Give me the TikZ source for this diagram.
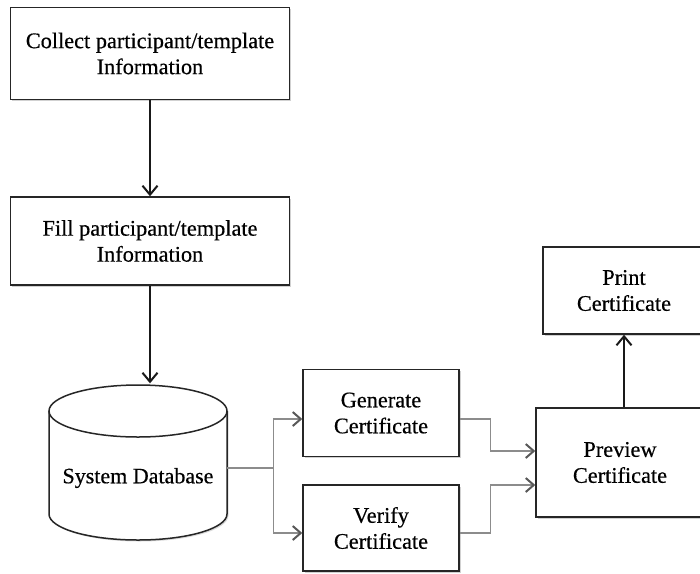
\documentclass[tikz,border=0pt]{standalone}
\usepackage{fontspec}
\setmainfont{Liberation Serif}[FakeBold=0.5]
\usetikzlibrary{arrows.meta,shadows}

\tikzset{
  stepbox/.style={draw=black!85, line width=1.5pt, fill=white, align=center,
    font=\fontsize{22.3}{26}\selectfont, inner sep=0pt,
    drop shadow={shadow xshift=1.5pt, shadow yshift=-1.5pt, fill=black, opacity=0.18}},
  flow/.style={draw=black!90, line width=1.8pt,
    -{Straight Barb[length=9pt,width=15pt,line width=2pt]}},
  feed/.style={draw=black!45, line width=1.2pt,
    -{Straight Barb[length=8pt,width=14pt,line width=2pt,color=black!65]}},
  dbline/.style={draw=black!85, line width=1.5pt}
}

\begin{document}
\begin{tikzpicture}[x=1pt,y=-1pt]
  \useasboundingbox (0,0) rectangle (700,573);
  \clip (0,0) rectangle (700,573);
  \fill[white] (0,0) rectangle (700,573);

  % main input steps
  \node[stepbox, minimum width=279pt, minimum height=92pt] (collect) at (150,53.5)
    {Collect participant/template\\Information};
  \node[stepbox, minimum width=279pt, minimum height=88pt] (fill) at (150,241)
    {Fill participant/template\\Information};

  % database cylinder
  \node[minimum width=178pt, minimum height=155pt, inner sep=0pt] (db) at (138,462.5) {};
  \fill[black, opacity=0.15] (50.5,411) -- (50.5,515.5)
    arc[start angle=180, end angle=360, x radius=89pt, y radius=26pt] -- (228.5,411) -- cycle;
  \fill[white] (49,411) -- (49,514)
    arc[start angle=180, end angle=360, x radius=89pt, y radius=26pt] -- (227,411) -- cycle;
  \draw[dbline] (49,411) -- (49,514)
    arc[start angle=180, end angle=360, x radius=89pt, y radius=26pt] -- (227,411);
  \draw[dbline, fill=white] (138,411) ellipse [x radius=89pt, y radius=26pt];
  \node[font=\fontsize{22}{26}\selectfont] (dbtext) at (138,478) {System Database};

  % certificate steps
  \node[stepbox, minimum width=156pt, minimum height=87pt] (gen) at (381,413)
    {Generate\\Certificate};
  \node[stepbox, minimum width=156pt, minimum height=86pt] (ver) at (381,528)
    {Verify\\Certificate};
  \node[stepbox, minimum width=168pt, minimum height=109pt] (prev) at (620,462.5)
    {Preview\\Certificate};
  \node[stepbox, minimum width=162pt, minimum height=87pt] (print) at (624,290.5)
    {Print\\Certificate};

  % black flow arrows
  \draw[flow] (collect.south) -- (fill.north);
  \draw[flow] (fill.south) -- ([yshift=1.5pt]fill.south |- db.north);
  \draw[flow] (print.south |- prev.north) -- (print.south);

  % grey branch lines
  \draw[draw=black!45, line width=1.2pt] ([yshift=-5.5pt]db.east) -- ++(46,0) coordinate (split);
  \draw[feed] (split) |- ([yshift=-6pt]gen.west);
  \draw[feed] (split) |- ([yshift=-5pt]ver.west);
  \draw[feed] ([yshift=-6pt]gen.east) -- ++(31,0) |- ([yshift=11.5pt]prev.west);
  \draw[feed] ([yshift=-5pt]ver.east) -- ++(31,0) |- ([yshift=-22.5pt]prev.west);
\end{tikzpicture}
\end{document}
